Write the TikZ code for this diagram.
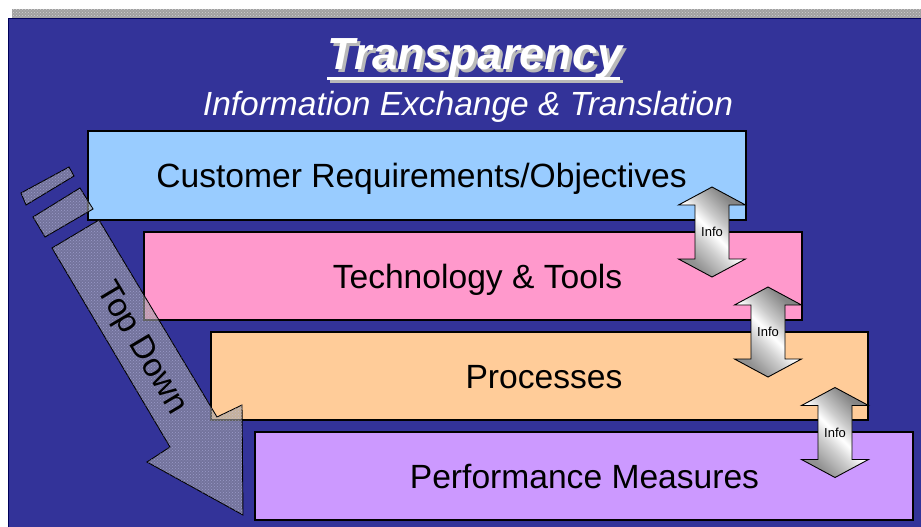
\documentclass[tikz,border=0pt]{standalone}
\usepackage{fontspec}
\setmainfont{Liberation Sans}
\usetikzlibrary{patterns}

\definecolor{bgblue}{HTML}{333399}
\definecolor{custblue}{HTML}{99CCFF}
\definecolor{techpink}{HTML}{FF99CC}
\definecolor{procpeach}{HTML}{FFCC99}
\definecolor{perflilac}{HTML}{CC99FF}
\definecolor{bandgray}{HTML}{A0A0A0}

% brushed-metal look for the double arrows
\pgfdeclarehorizontalshading{metal}{100bp}{%
  color(0bp)=(gray!95); color(28bp)=(gray!85); color(42bp)=(gray!35);
  color(50bp)=(white); color(58bp)=(gray!40); color(72bp)=(gray!95);
  color(100bp)=(gray)}

\tikzset{
  stage/.style={draw=black, line width=1.1pt, inner sep=0pt,
    font=\fontsize{33.6}{40}\selectfont, text height=24pt, text depth=0pt},
  infolabel/.style={font=\fontsize{13}{15}\selectfont, text=black, inner sep=0pt},
  infoarrow/.pic={
    \shadedraw[shading=metal, shading angle=45, draw=black, line width=0.9pt]
      (0,-45) -- (33.5,-27) -- (17,-27) -- (17,27) -- (33.5,27) -- (0,45)
      -- (-33.5,27) -- (-17,27) -- (-17,-27) -- (-33.5,-27) -- cycle;
    \node[infolabel] (-info) at (0,0) {Info};
  },
  grainy/.style={fill=gray!75!white, fill opacity=0.6, draw=black, line width=0.9pt},
  grain/.style={pattern=crosshatch dots, pattern color=white!80!blue, opacity=0.45},
}

\begin{document}
\begin{tikzpicture}[x=1pt, y=-1pt]
  \useasboundingbox (0,0) rectangle (921,527);
  \fill[white] (0,0) rectangle (921,527);

  % textured strip along the top
  \fill[bandgray] (12,9) rectangle (921,19);
  \fill[pattern=crosshatch dots, pattern color=gray!35!white] (12,9) rectangle (921,19);

  % blue panel
  \fill[bgblue] (8,19) rectangle (921,527);
  \draw[line width=1pt, draw=blue!35!black] (8,527) -- (8,19) -- (921,19);

  % title with drop shadow
  \node[font=\fontsize{45}{52}\selectfont\bfseries\itshape, text=gray!55, anchor=base]
    (titleshadow) at (478,73) {Transparency};
  \node[font=\fontsize{45}{52}\selectfont\bfseries\itshape, text=white, anchor=base]
    (title) at (475,70) {Transparency};
  \fill[gray!55] (330,80) rectangle (623,83);
  \fill[white] (327,77) rectangle (620,80);
  \node[font=\fontsize{33.5}{40}\selectfont\itshape, text=white, anchor=base]
    (subtitle) at (468,115) {Information Exchange \& Translation};

  % the four layers
  \node[stage, fill=custblue, minimum width=658, minimum height=89]
    (cust) at (417,175.5) {\hspace*{9pt}Customer Requirements/Objectives};
  \node[stage, fill=techpink, minimum width=658, minimum height=88]
    (tech) at (473,276) {\hspace*{9pt}Technology \& Tools};
  \node[stage, fill=procpeach, minimum width=657, minimum height=88]
    (proc) at (539.5,376) {\hspace*{9pt}Processes};
  \node[stage, fill=perflilac, minimum width=658, minimum height=88]
    (perf) at (584,476) {\hspace*{1pt}Performance Measures};

  % information exchange between neighbouring layers
  \pic (i1) at (712,232) {infoarrow};
  \pic (i2) at (768,332) {infoarrow};
  \pic (i3) at (835,432.5) {infoarrow};

  % top-down arrow
  \path[grainy] (21,193) -- (69,167) -- (74,176) -- (26,205) -- cycle;
  \path[grain]  (21,193) -- (69,167) -- (74,176) -- (26,205) -- cycle;
  \path[grainy] (33,217) -- (80,188) -- (93,209) -- (45,237) -- cycle;
  \path[grain]  (33,217) -- (80,188) -- (93,209) -- (45,237) -- cycle;
  \path[grainy] (52,248) -- (99,220) -- (217,417) -- (242,405) -- (243,515)
    -- (147,462) -- (170,447) -- cycle;
  \path[grain]  (52,248) -- (99,220) -- (217,417) -- (242,405) -- (243,515)
    -- (147,462) -- (170,447) -- cycle;
  \node[font=\fontsize{33}{38}\selectfont, rotate=-59.3, text=black]
    (topdown) at (141,349) {Top Down};
\end{tikzpicture}
\end{document}
